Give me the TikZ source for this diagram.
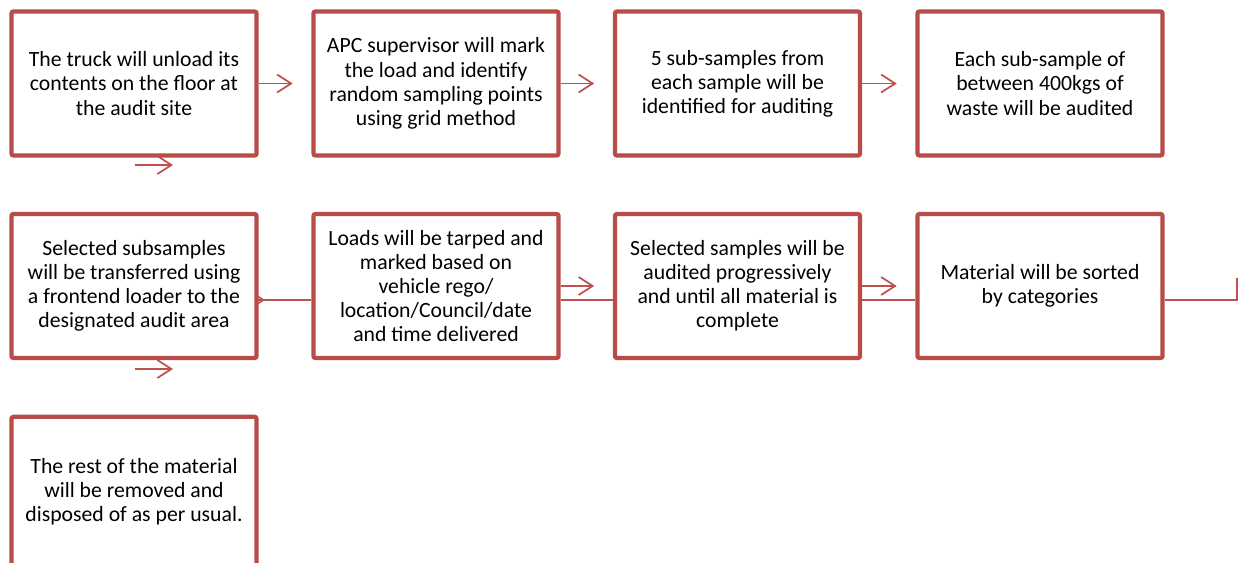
\documentclass[tikz,border=0pt]{standalone}
\usepackage{fontspec}
\setmainfont{Carlito}
\usetikzlibrary{arrows.meta,backgrounds}

\definecolor{boxred}{RGB}{183,76,73}
\definecolor{linkred}{RGB}{192,80,77}

\tikzset{
  stepbox/.style={draw=boxred, line width=3.2pt, fill=white, rounded corners=1.5pt,
    minimum width=183.75pt, minimum height=108pt, inner sep=0pt, align=center,
    font=\fontsize{16.3}{18.1}\selectfont},
  linkline/.style={draw=linkred, line width=1.3pt},
  linkarrow/.style={linkline, -{Straight Barb[length=10.5pt,width=13.5pt,line width=1.3pt]}}
}

\begin{document}
\begin{tikzpicture}[x=0.75pt,y=0.75pt,yscale=-1]
\useasboundingbox (0,0) rectangle (1246,563);

% first row
\node[stepbox] (s1) at (134,83.5) {The truck will unload its\\contents on the floor at\\the audit site};
\node[stepbox] (s2) at (436,83.5) {APC supervisor will mark\\the load and identify\\random sampling points\\using grid method};
\node[stepbox] (s3) at (737.5,83.5) {5 sub-samples from\\each sample will be\\identified for auditing};
\node[stepbox] (s4) at (1040,83.5) {Each sub-sample of\\between 400kgs of\\waste will be audited};

% second row
\node[stepbox] (s5) at (134,286) {Selected subsamples\\will be transferred using\\a frontend loader to the\\designated audit area};
\node[stepbox] (s6) at (436,286) {Loads will be tarped and\\marked based on\\vehicle rego/\\location/Council/date\\and time delivered};
\node[stepbox] (s7) at (737.5,286) {Selected samples will be\\audited progressively\\and until all material is\\complete};
\node[stepbox] (s8) at (1040,286) {Material will be sorted\\by categories};

% last one runs off the page
\node[stepbox, minimum height=112pt] (s9) at (134,491.5) {The rest of the material\\will be removed and\\disposed of as per usual.};

% free ends
\coordinate (d1a) at (135,165);
\coordinate (d1b) at (173,165);
\coordinate (d5a) at (135,369);
\coordinate (d5b) at (173,369);
\coordinate (h5) at (265,300);
\coordinate (e8) at (1237,278);

\begin{scope}[on background layer]
% row 1 arrows
\draw[linkarrow, shorten >=14pt] (s1) -- (s2);
\draw[linkarrow, shorten >=14pt] (s2) -- (s3);
\draw[linkarrow, shorten >=14pt] (s3) -- (s4);
\draw[linkarrow] (d1a) -- (d1b);

% row 2 arrows and links
\draw[linkarrow] (s5.center |- h5) -- (h5);
\draw[linkline] (s5.east |- h5) -- (s6.west |- h5);
\draw[linkarrow, shorten >=14pt] (s6) -- (s7);
\draw[linkline] (s6.east |- h5) -- (s7.west |- h5);
\draw[linkarrow, shorten >=14pt] (s7) -- (s8);
\draw[linkline] (s7.east |- h5) -- (s8.west |- h5);
\draw[linkline] (s8.east |- h5) -- (e8 |- h5) -- (e8);
\draw[linkarrow] (d5a) -- (d5b);
\end{scope}

\end{tikzpicture}
\end{document}
